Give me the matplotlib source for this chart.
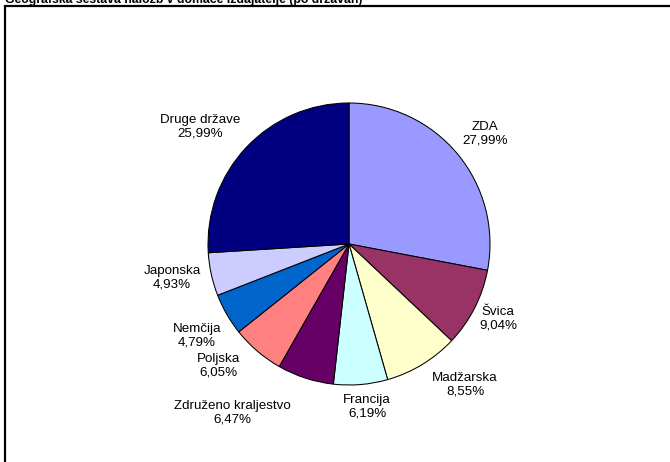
import matplotlib
matplotlib.use('Agg')
import matplotlib.pyplot as plt
from matplotlib.patches import Rectangle

plt.rcParams['font.family'] = ['Liberation Sans', 'DejaVu Sans']

title = 'Geografska sestava naložb v domače izdajatelje (po državah)'

countries = ['ZDA', 'Švica', 'Madžarska', 'Francija', 'Združeno kraljestvo',
             'Poljska', 'Nemčija', 'Japonska', 'Druge države']
shares    = [27.99, 9.04, 8.55, 6.19, 6.47, 6.05, 4.79, 4.93, 25.99]
colors    = ['#9999FF', '#993366', '#FFFFCC', '#CCFFFF', '#660066',
             '#FF8080', '#0066CC', '#CCCCFF', '#000080']

# label centres (pie radius = 1)
label_pos = [(0.965, 0.784), (1.057, -0.532), (0.823, -1.000),
             (0.128, -1.156), (-0.830, -1.199), (-0.929, -0.865),
             (-1.078, -0.652), (-1.255, -0.241), (-1.057, 0.830)]

W, H = 670, 462
cx, cy, rad = 349, 244, 141

fig = plt.figure(figsize=(W / 100, H / 100), dpi=100)
ax = fig.add_axes([0, 0, 1, 1])
ax.pie(shares, colors=colors, startangle=90, counterclock=False,
       radius=1.0, wedgeprops=dict(edgecolor='black', linewidth=0.75))
ax.set_xlim(-cx / rad, (W - cx) / rad)
ax.set_ylim(-(H - cy) / rad, cy / rad)
ax.set_aspect('equal')
ax.axis('off')

for name, val, (x, y) in zip(countries, shares, label_pos):
    lab = name + '\n' + ('%.2f' % val).replace('.', ',') + '%'
    ax.text(x, y, lab, ha='center', va='center', fontsize=9.6,
            linespacing=1.15, color='black')

# title is clipped by the top edge, as in the original
fig.text(5 / W, 1 - 2.5 / H, title, ha='left', va='baseline',
         fontsize=8.8, fontweight='bold')

fig.patches.append(Rectangle((4.5 / W, -0.1), 1.2, 1 - 6.5 / H + 0.1,
                             transform=fig.transFigure, fill=False,
                             edgecolor='black', linewidth=1.6))

fig.savefig('out.png', dpi=100)
